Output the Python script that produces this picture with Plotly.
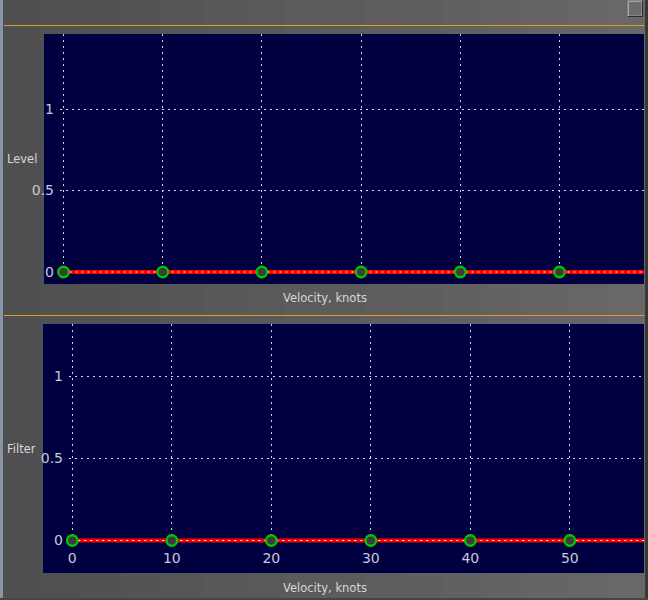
import plotly.graph_objects as go

# ---- data ----
velocity = [0, 10, 20, 30, 40, 50, 60]          # knots
level = [0, 0, 0, 0, 0, 0, 0]
filter_vals = [0, 0, 0, 0, 0, 0, 0]
x_ticks = [0, 10, 20, 30, 40, 50]
y_ticks = [0, 0.5, 1]
y_tick_labels = ["0", "0.5", "1"]
x_title = "Velocity, knots"
top_title = "Level"
bottom_title = "Filter"

W, H = 648, 600
def fx(px):
    return px / W
def fy(py):
    return 1 - py / H

NAVY = "#000040"
GRID = "#d4d4e4"
TICKC = "#c8c8d6"
TITLEC = "#d8d8d8"
FONT = "DejaVu Sans"

fig = go.Figure()

# empty traces so the grid-only subplots exist
fig.add_trace(go.Scatter(x=[None], y=[None], xaxis="x", yaxis="y", showlegend=False, hoverinfo="skip"))
fig.add_trace(go.Scatter(x=[None], y=[None], xaxis="x2", yaxis="y2", showlegend=False, hoverinfo="skip"))

for vals, xa, ya in [(level, "x3", "y3"), (filter_vals, "x4", "y4")]:
    fig.add_trace(go.Scatter(x=velocity, y=vals, xaxis=xa, yaxis=ya, mode="lines",
                             line=dict(color="#ff0000", width=3.8), showlegend=False, hoverinfo="skip"))
    fig.add_trace(go.Scatter(x=velocity, y=vals, xaxis=xa, yaxis=ya, mode="lines",
                             line=dict(color="#ffffff", width=1.2, dash="2px,4px"), showlegend=False, hoverinfo="skip"))
    fig.add_trace(go.Scatter(x=velocity, y=vals, xaxis=xa, yaxis=ya, mode="markers",
                             marker=dict(size=10.5, color="#3c3c3c", line=dict(color="#00c800", width=2.3)),
                             showlegend=False))

grid_common = dict(showgrid=True, gridcolor=GRID, gridwidth=1, griddash="2px,4px",
                   zeroline=False, showticklabels=False, ticks="", showline=False, fixedrange=True)
plain = dict(showgrid=False, zeroline=False, showline=False, ticks="", fixedrange=True)
tickfont = dict(family=FONT, size=14, color=TICKC)

# top panel geometry (pixels)
tx0, tsx = 63.5, 9.92
ty0, tsy = 272, 163
# bottom panel geometry
bx0, bsx = 72.3, 9.95
by0, bsy = 540.5, 164.5

layout = dict(
    width=W, height=H, margin=dict(l=0, r=0, t=0, b=0),
    paper_bgcolor="#5c5b5d", plot_bgcolor="rgba(0,0,0,0)",
    showlegend=False,
    xaxis=dict(domain=[fx(60), fx(644)], range=[(60 - tx0) / tsx, (644 - tx0) / tsx],
               anchor="y", tick0=0, dtick=10, **grid_common),
    yaxis=dict(domain=[fy(275), fy(34)], range=[-(275 - ty0) / tsy, (ty0 - 34) / tsy],
               anchor="x", tick0=0, dtick=0.5, **grid_common),
    xaxis2=dict(domain=[fx(69), fx(644)], range=[(69 - bx0) / bsx, (644 - bx0) / bsx],
                anchor="y2", tick0=0, dtick=10, **grid_common),
    yaxis2=dict(domain=[fy(543), fy(324)], range=[-(543 - by0) / bsy, (by0 - 324) / bsy],
                anchor="x2", tick0=0, dtick=0.5, **grid_common),
    xaxis3=dict(domain=[fx(44), fx(644)], range=[(44 - tx0) / tsx, (644 - tx0) / tsx],
                anchor="y3", showticklabels=False, **plain),
    yaxis3=dict(domain=[fy(284), fy(34)], range=[-(284 - ty0) / tsy, (ty0 - 34) / tsy],
                anchor="free", position=fx(54), tickvals=y_ticks, ticktext=y_tick_labels,
                tickfont=tickfont, **plain),
    xaxis4=dict(domain=[fx(43), fx(644)], range=[(43 - bx0) / bsx, (644 - bx0) / bsx],
                anchor="free", position=fy(548), tickvals=x_ticks, tickfont=tickfont, **plain),
    yaxis4=dict(domain=[fy(573), fy(324)], range=[-(573 - by0) / bsy, (by0 - 324) / bsy],
                anchor="free", position=fx(63), tickvals=y_ticks, ticktext=y_tick_labels,
                tickfont=tickfont, **plain),
)
fig.update_layout(**layout)

shapes = []
# background gradient strips
n = 16
c0 = (0x4f, 0x4f, 0x51)
c1 = (0x69, 0x67, 0x68)
for i in range(n):
    t = i / (n - 1)
    c = tuple(round(a + (b - a) * t) for a, b in zip(c0, c1))
    shapes.append(dict(type="rect", xref="paper", yref="paper", layer="below",
                       x0=i / n, x1=(i + 1) / n + 0.002, y0=0, y1=1,
                       fillcolor="rgb(%d,%d,%d)" % c, line=dict(width=0)))
# window edges
shapes.append(dict(type="rect", xref="paper", yref="paper", layer="below",
                   x0=0, x1=fx(3), y0=0, y1=1, fillcolor="#8a94a6", line=dict(width=0)))
shapes.append(dict(type="rect", xref="paper", yref="paper", layer="below",
                   x0=fx(645), x1=1, y0=0, y1=1, fillcolor="#383838", line=dict(width=0)))
shapes.append(dict(type="rect", xref="paper", yref="paper", layer="below",
                   x0=0, x1=1, y0=0, y1=fy(598), fillcolor="#454545", line=dict(width=0)))
# plot backgrounds
shapes.append(dict(type="rect", xref="paper", yref="paper", layer="below",
                   x0=fx(44), x1=fx(644), y0=fy(284), y1=fy(34), fillcolor=NAVY, line=dict(width=0)))
shapes.append(dict(type="rect", xref="paper", yref="paper", layer="below",
                   x0=fx(43), x1=fx(644), y0=fy(573), y1=fy(324), fillcolor=NAVY, line=dict(width=0)))
# orange separators
for yy in (25.5, 315.5):
    shapes.append(dict(type="line", xref="paper", yref="paper", layer="below",
                       x0=fx(4), x1=fx(644), y0=fy(yy), y1=fy(yy), line=dict(color="#d9a024", width=1)))
# window button
shapes.append(dict(type="rect", xref="paper", yref="paper", layer="below",
                   x0=fx(628), x1=fx(643), y0=fy(17), y1=fy(1), fillcolor="#2e2e2e", line=dict(width=0)))
shapes.append(dict(type="rect", xref="paper", yref="paper", layer="below",
                   x0=fx(627.5), x1=fx(642), y0=fy(16), y1=fy(0.5), fillcolor="#a4a4a4", line=dict(width=0)))
shapes.append(dict(type="rect", xref="paper", yref="paper", layer="below",
                   x0=fx(629), x1=fx(641.5), y0=fy(15.5), y1=fy(2), fillcolor="#6c6c6c", line=dict(width=0)))
fig.update_layout(shapes=shapes)

annotations = [
    dict(text=top_title, x=fx(5), y=fy(159), xanchor="left", yanchor="middle"),
    dict(text=bottom_title, x=fx(5), y=fy(449), xanchor="left", yanchor="middle"),
    dict(text=x_title, x=fx(325), y=fy(298), xanchor="center", yanchor="middle"),
    dict(text=x_title, x=fx(325), y=fy(588), xanchor="center", yanchor="middle"),
]
for a in annotations:
    a.update(xref="paper", yref="paper", showarrow=False,
             font=dict(family=FONT, size=11.5, color=TITLEC))
fig.update_layout(annotations=annotations)

fig.write_html("out.html")
